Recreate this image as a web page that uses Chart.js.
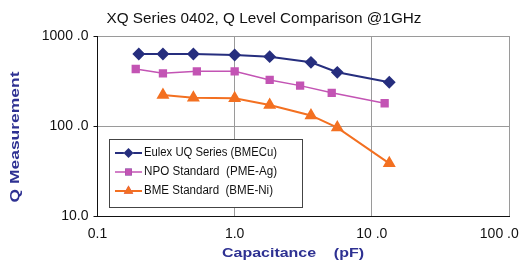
<!DOCTYPE html>
<html>
<head>
<meta charset="utf-8">
<script src="https://cdn.jsdelivr.net/npm/chart.js@4/dist/chart.umd.min.js"></script>
<style>
  body { margin: 0; background: #fff; }
  #wrap { width: 525px; height: 277px; position: relative; }
</style>
</head>
<body>
<div id="wrap"><canvas id="qChart"></canvas></div>
<script>
// data (capacitance pF, Q)
const uqCap  = [0.2, 0.3, 0.5, 1.0, 1.8, 3.6, 5.6, 13.4];
const uqQ    = [631, 631, 631, 615, 589, 510, 395, 306];
const npoCap = [0.19, 0.3, 0.53, 1.0, 1.8, 3.0, 5.1, 12.4];
const npoQ   = [430, 385, 405, 405, 325, 281, 234, 179];
const bmeCap = [0.3, 0.5, 1.0, 1.8, 3.6, 5.6, 13.4];
const bmeQ   = [221, 206, 203, 171, 131, 96, 38.5];

const seriesNames = ['Eulex UQ Series (BMECu)', 'NPO Standard  (PME-Ag)', 'BME Standard  (BME-Ni)'];
const xTickValues = [0.1, 1, 10, 100];
const xTickLabels = ['0.1', '1.0', '10 .0', '100 .0'];
const yTickValues = [10, 100, 1000];
const yTickLabels = ['10.0', '100 .0', '1000 .0'];

const chartTitle = 'XQ Series 0402, Q Level Comparison @1GHz';
const xTitle = 'Capacitance    (pF)';
const yTitle = 'Q Measurement';

const navy = '#2E3192';
const toPoints = (xs, ys) => xs.map((x, i) => ({ x: x, y: ys[i] }));

// draw text squeezed/stretched to a given width
function fitText(ctx, text, cx, cy, width, font, color) {
    ctx.save();
    ctx.font = font;
    ctx.fillStyle = color;
    ctx.textAlign = 'center';
    ctx.textBaseline = 'middle';
    const w = ctx.measureText(text).width;
    ctx.translate(cx, cy);
    ctx.scale(width / w, 1);
    ctx.fillText(text, 0, 0);
    ctx.restore();
}

const decorations = {
    id: 'decorations',
    afterDraw(chart) {
        const ctx = chart.ctx;
        fitText(ctx, chartTitle, 264, 19, 315, '15px "Liberation Sans"', '#111');
        fitText(ctx, xTitle, 293, 253, 142, 'bold 13px "Liberation Sans"', navy);
        ctx.save();
        ctx.translate(15, 137);
        ctx.rotate(-Math.PI / 2);
        fitText(ctx, yTitle, 0, 0, 131, 'bold 13px "Liberation Sans"', navy);
        ctx.restore();

        // legend box inside the plot
        ctx.save();
        ctx.fillStyle = '#fff';
        ctx.fillRect(109.5, 139.5, 193, 68);
        ctx.strokeStyle = '#444';
        ctx.lineWidth = 1;
        ctx.strokeRect(109.5, 139.5, 193, 68);
        const rowsY = [153, 172, 191];
        const textW = [133, 133, 129];
        chart.data.datasets.forEach((ds, i) => {
            const y = rowsY[i];
            ctx.strokeStyle = ds.borderColor;
            ctx.lineWidth = ds.borderWidth;
            ctx.beginPath();
            ctx.moveTo(115, y);
            ctx.lineTo(142, y);
            ctx.stroke();
            Chart.helpers.drawPoint(ctx, {
                pointStyle: ds.pointStyle,
                radius: ds.pointRadius,
                rotation: 0,
                borderWidth: 0
            }, 128.5, y);
            ctx.fillStyle = ds.borderColor;
            ctx.fill();
            ctx.save();
            ctx.font = '12.5px "Liberation Sans"';
            const w = ctx.measureText(ds.label).width;
            ctx.translate(144, y);
            ctx.scale(textW[i] / w, 1);
            ctx.fillStyle = '#111';
            ctx.textAlign = 'left';
            ctx.textBaseline = 'middle';
            ctx.fillText(ds.label, 0, 0);
            ctx.restore();
        });
        ctx.restore();
    }
};

new Chart(document.getElementById('qChart'), {
    type: 'line',
    data: {
        datasets: [{
            label: seriesNames[0],
            data: toPoints(uqCap, uqQ),
            borderColor: '#262E7E',
            backgroundColor: '#262E7E',
            borderWidth: 2,
            pointStyle: 'rectRot',
            pointRadius: 5
        }, {
            label: seriesNames[1],
            data: toPoints(npoCap, npoQ),
            borderColor: '#C354B4',
            backgroundColor: '#C354B4',
            borderWidth: 1.5,
            pointStyle: 'rect',
            pointRadius: 4.8
        }, {
            label: seriesNames[2],
            data: toPoints(bmeCap, bmeQ),
            borderColor: '#F37021',
            backgroundColor: '#F37021',
            borderWidth: 2,
            pointStyle: 'triangle',
            pointRadius: 5.5
        }]
    },
    options: {
        responsive: true,
        maintainAspectRatio: false,
        animation: false,
        layout: { padding: { left: 0, right: 16, top: 36, bottom: 0 } },
        elements: { point: { borderWidth: 0, hoverRadius: 5 }, line: { tension: 0 } },
        plugins: {
            legend: { display: false },
            tooltip: { enabled: false }
        },
        scales: {
            x: {
                type: 'logarithmic',
                min: 0.1,
                max: 100,
                afterBuildTicks: scale => { scale.ticks = xTickValues.map(v => ({ value: v })); },
                afterFit: scale => {
                    scale.height = 61;
                    scale.paddingLeft = 0;
                    scale.paddingRight = 0;
                },
                ticks: {
                    autoSkip: false,
                    maxRotation: 0,
                    padding: 10,
                    color: '#111',
                    font: { family: 'Liberation Sans', size: 14 },
                    // last label sits left of its tick so it stays inside the canvas
                    callback: (v) => {
                        const label = xTickLabels[xTickValues.indexOf(v)];
                        return v === 100 ? label + '     ' : label;
                    }
                },
                grid: { color: '#9a9a9a', drawTicks: false, lineWidth: 1 },
                border: { color: '#111', width: 1 }
            },
            y: {
                type: 'logarithmic',
                min: 10,
                max: 1000,
                afterBuildTicks: scale => { scale.ticks = yTickValues.map(v => ({ value: v })); },
                afterFit: scale => {
                    scale.width = 97.5;
                    scale.paddingTop = 0;
                    scale.paddingBottom = 0;
                },
                ticks: {
                    autoSkip: false,
                    padding: 5,
                    color: '#111',
                    font: { family: 'Liberation Sans', size: 14 },
                    callback: (v) => yTickLabels[yTickValues.indexOf(v)]
                },
                grid: { color: '#9a9a9a', tickColor: '#111', tickLength: 4, lineWidth: 1 },
                border: { color: '#111', width: 1 }
            }
        }
    },
    plugins: [decorations]
});
</script>
</body>
</html>
